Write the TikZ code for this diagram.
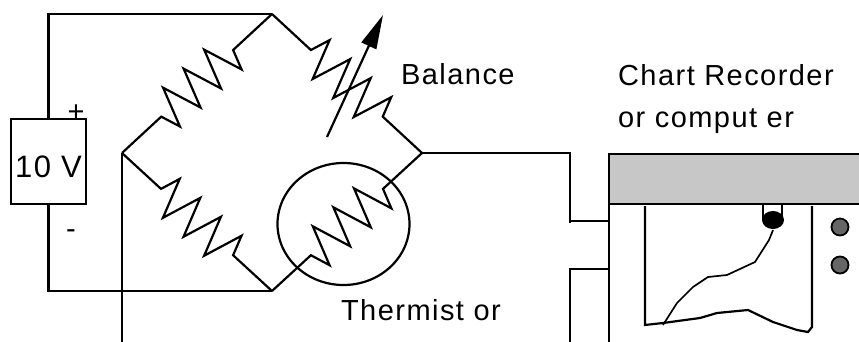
\documentclass[tikz,border=0pt]{standalone}
\usepackage{fontspec}
\setmainfont{Liberation Sans}[LetterSpace=5]
\usepackage{tikz}
\usetikzlibrary{arrows.meta,decorations.pathmorphing,shapes.geometric}

\begin{document}
\begin{tikzpicture}[x=1pt,y=-1pt,line width=2.2pt,
		every node/.style={font=\fontsize{29}{34}\selectfont, inner sep=0pt},
		res/.style={decorate, decoration={zigzag, segment length=28pt, amplitude=20pt, pre length=53pt, post length=52pt}},
		lbl/.style={anchor=base west}]
			\useasboundingbox (0,0) rectangle (859,342);
			% bridge
			\coordinate (top) at (272,14);
			\coordinate (left) at (122,153);
			\coordinate (right) at (422,153);
			\coordinate (bot) at (272,291);
			\draw[res] (top) -- (left);
			\draw[res] (top) -- (right);
			\draw[res] (left) -- (bot);
			\draw[res] (right) -- (bot);
			\coordinate (b1) at (327,137);
			\coordinate (b2) at (383,15);
			\draw[-{Triangle[length=34pt,width=16pt]}] (b1) -- (b2);
			\node[draw, ellipse, minimum width=132pt, minimum height=122pt] at (343.5,224) (therm){};
			% supply
			\node[draw, minimum width=75pt, minimum height=85pt, text height=32pt, font=\fontsize{31}{36}\selectfont] at (48.5,161.5) (bat){10 V};
			\node at (76,113) (plus){+};
			\node at (71,234) (minus){-};
			\draw (bat.north) |- (top);
			\draw (bat.south) |- (bot);
			% outputs
			\coordinate (lout) at (122,342);
			\coordinate (j1) at (570,221);
			\coordinate (in1) at (608,221);
			\coordinate (in2) at (608,269);
			\coordinate (rout) at (570,342);
			\draw (left) -- (lout);
			\draw (right) -| ([yshift=-2pt]j1);
			\draw (j1) -- (in1);
			\draw (in2) -| (rout);
			% recorder
			\fill[black!22] (609,154) rectangle (870,204);
			\draw (870,154) -- (609,154) -- (609,342);
			\draw (609,204) -- (870,204);
			\draw (645,206) -- (645,325) -- (663,323) -- (700,318) -- (717,313) -- (748,310) -- (773,322) -- (797,330) -- (808,332) -- (812,327) -- (812,206);
			\draw[line width=1.6pt] (763,204) rectangle (782,220);
			\node[fill, ellipse, minimum width=22pt, minimum height=18pt] at (773,220) (pen){};
			\draw[line width=1.7pt] (pen.south) -- (769,240) -- (755,262) -- (727,275) -- (708,277) -- (693,287) -- (677,303) -- (663,325);
			\node[draw, circle, fill=black!60, line width=1.8pt, minimum size=17pt] at (840,227) (led1){};
			\node[draw, circle, fill=black!60, line width=1.8pt, minimum size=17pt] at (840,265) (led2){};
			% labels
			\node[lbl] at (400,85) (bal){Balance};
			\node[lbl] at (617,86) (chart){Chart Recorder};
			\node[lbl] at (617,128) (comp){or comput er};
			\node[lbl] at (340,320) (thlbl){Thermist or};
		\end{tikzpicture}
\end{document}
